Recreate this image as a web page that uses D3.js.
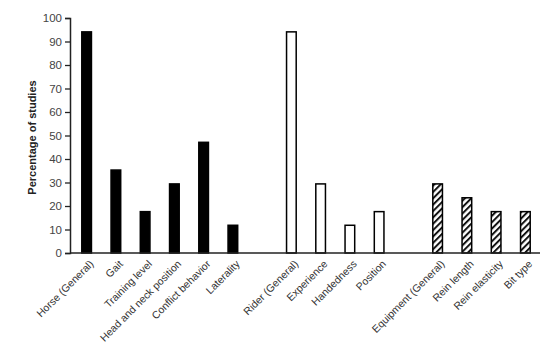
<!DOCTYPE html>
<html>
<head>
<meta charset="utf-8">
<script src="https://cdn.jsdelivr.net/npm/d3@7"></script>
<style>
  body { margin: 0; background: #fff; }
  text { font-family: "Liberation Sans", Arial, sans-serif; }
</style>
</head>
<body>
<div id="chart"></div>
<script>
// chart size
const width = 549;
const height = 362;
const margin = {left: 72, right: 9, top: 18, bottom: 109};

// data (percentage of studies)
const horseCats = ["Horse (General)", "Gait", "Training level", "Head and neck position", "Conflict behavior", "Laterality"];
const horseVals = [94.1, 35.3, 17.6, 29.4, 47.1, 11.8];
const riderCats = ["Rider (General)", "Experience", "Handedness", "Position"];
const riderVals = [94.1, 29.4, 11.8, 17.6];
const equipCats = ["Equipment (General)", "Rein length", "Rein elasticity", "Bit type"];
const equipVals = [29.4, 23.5, 17.6, 17.6];
const yTicks = [0, 10, 20, 30, 40, 50, 60, 70, 80, 90, 100];

// build one list, with an empty slot between the groups
const rows = [];
horseCats.forEach((c, i) => rows.push({name: c, value: horseVals[i], group: "horse"}));
rows.push({name: "gap1", value: null});
riderCats.forEach((c, i) => rows.push({name: c, value: riderVals[i], group: "rider"}));
rows.push({name: "gap2", value: null});
equipCats.forEach((c, i) => rows.push({name: c, value: equipVals[i], group: "equip"}));
const bars = rows.filter(d => d.value !== null);

const svg = d3.select("#chart")
  .append("svg")
  .attr("width", width)
  .attr("height", height);

// hatch pattern for the equipment bars
const defs = svg.append("defs");
defs.append("pattern")
  .attr("id", "hatch")
  .attr("patternUnits", "userSpaceOnUse")
  .attr("width", 4.5)
  .attr("height", 4.5)
  .attr("patternTransform", "rotate(45)")
  .append("rect")
  .attr("x", 0).attr("y", 0)
  .attr("width", 2).attr("height", 4.5)
  .attr("fill", "#111");

// scales
const x = d3.scaleBand()
  .domain(rows.map(d => d.name))
  .range([margin.left, width - margin.right])
  .padding(0);

const y = d3.scaleLinear()
  .domain([0, 100])
  .range([height - margin.bottom, margin.top]);

const barW = x.bandwidth() * 0.33;

// y axis
const yAxis = svg.append("g")
  .attr("transform", `translate(${margin.left - 2},0)`)
  .call(d3.axisLeft(y).tickValues(yTicks).tickSize(5).tickPadding(3));
yAxis.select(".domain").attr("stroke", "#222").attr("stroke-width", 1.5);
yAxis.selectAll(".tick line").attr("stroke", "#222").attr("stroke-width", 1.3);
yAxis.selectAll(".tick text").attr("font-size", "11.5px").attr("fill", "#444")
  .style("font-family", "Liberation Sans, Arial, sans-serif");

// y title
svg.append("text")
  .attr("transform", `translate(36,${(y(0) + y(100)) / 2 + 2}) rotate(-90)`)
  .attr("text-anchor", "middle")
  .attr("font-size", "11px")
  .attr("font-weight", "bold")
  .attr("fill", "#222")
  .text("Percentage of studies");

// bars
svg.selectAll(".bar")
  .data(bars)
  .enter()
  .append("rect")
    .attr("class", "bar")
    .attr("x", d => x(d.name) + (x.bandwidth() - barW) / 2)
    .attr("y", d => y(d.value))
    .attr("width", barW)
    .attr("height", d => y(0) - y(d.value))
    .attr("fill", d => d.group === "horse" ? "#000" : d.group === "rider" ? "#fff" : "url(#hatch)")
    .attr("stroke", "#000")
    .attr("stroke-width", 1.5);

// x axis line
svg.append("line")
  .attr("x1", margin.left - 2)
  .attr("x2", width - margin.right)
  .attr("y1", y(0))
  .attr("y2", y(0))
  .attr("stroke", "#222")
  .attr("stroke-width", 1.5);

// category labels, rotated
svg.selectAll(".xlab")
  .data(bars)
  .enter()
  .append("text")
    .attr("class", "xlab")
    .attr("transform", d => `translate(${x(d.name) + x.bandwidth() / 2 + 5},${y(0) + 9}) rotate(-45)`)
    .attr("text-anchor", "end")
    .attr("dy", "0.35em")
    .attr("font-size", "10.5px")
    .attr("fill", "#333")
    .text(d => d.name);
</script>
</body>
</html>
